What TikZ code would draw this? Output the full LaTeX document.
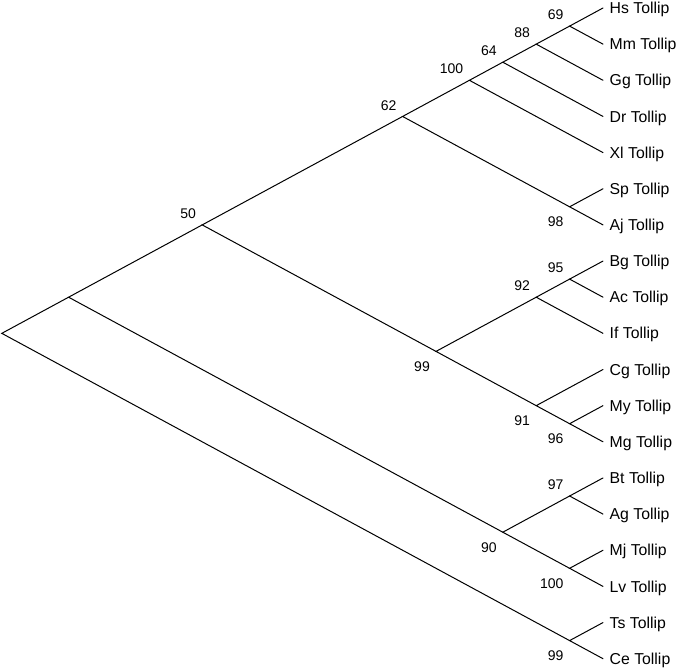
\documentclass[tikz,border=0pt]{standalone}
\usepackage{fontspec}
\setmainfont{Liberation Sans}
\usepackage{tikz,pgffor}

\begin{document}
\begin{tikzpicture}[x=1pt,y=-1pt,
  branch/.style={line width=1pt, line cap=round},
  leaf/.style={anchor=base west, inner sep=0pt, xshift=6.5pt, yshift=-5.6pt,
    font=\fontsize{15.8}{18}\selectfont},
  bsup/.style={anchor=south east, inner sep=0pt, xshift=-6pt, yshift=6pt,
    font=\fontsize{14}{16}\selectfont},
  bsdown/.style={anchor=north east, inner sep=0pt, xshift=-6pt, yshift=-10pt,
    font=\fontsize{14}{16}\selectfont}]
\useasboundingbox (0,0) rectangle (685,669);

%%%%%%%%%%%%%%%%%%%%%%%%%%%%%%% leaves
\coordinate (hs) at (603,8);
\coordinate (mm) at (603,44.15);
\coordinate (gg) at (603,80.3);
\coordinate (dr) at (603,116.45);
\coordinate (xl) at (603,152.6);
\coordinate (sp) at (603,188.75);
\coordinate (aj) at (603,224.9);
\coordinate (bg) at (603,261.05);
\coordinate (ac) at (603,297.2);
\coordinate (if) at (603,333.35);
\coordinate (cg) at (603,369.5);
\coordinate (my) at (603,405.65);
\coordinate (mg) at (603,441.8);
\coordinate (bt) at (603,477.95);
\coordinate (ag) at (603,514.1);
\coordinate (mj) at (603,550.25);
\coordinate (lv) at (603,586.4);
\coordinate (ts) at (603,622.55);
\coordinate (ce) at (603,658.7);

\foreach \n/\t in {hs/Hs,mm/Mm,gg/Gg,dr/Dr,xl/Xl,sp/Sp,aj/Aj,bg/Bg,ac/Ac,
  if/If,cg/Cg,my/My,mg/Mg,bt/Bt,ag/Ag,mj/Mj,lv/Lv,ts/Ts,ce/Ce}
  \node[leaf] (\n-txt) at (\n) {\t{} Tollip};

%%%%%%%%%%%%%%%%%%%%%%%%%%%%%%% inner nodes
\coordinate (hsmm) at (569.6,26.1);
\coordinate (hsgg) at (536.2,44.15);
\coordinate (hsdr) at (502.8,62.2);
\coordinate (hsxl) at (469.4,80.3);
\coordinate (spaj) at (569.6,206.8);
\coordinate (hsaj) at (402.6,116.45);
\coordinate (bgac) at (569.6,279.1);
\coordinate (bgif) at (536.2,297.2);
\coordinate (mymg) at (569.6,423.7);
\coordinate (cgmg) at (536.2,405.65);
\coordinate (bgmg) at (436.0,351.4);
\coordinate (hsmg) at (202.2,224.9);
\coordinate (btag) at (569.6,496.0);
\coordinate (mjlv) at (569.6,568.3);
\coordinate (btlv) at (502.8,532.2);
\coordinate (hslv) at (68.6,297.2);
\coordinate (tsce) at (569.6,640.6);
\coordinate (root) at (1.8,333.35);

%%%%%%%%%%%%%%%%%%%%%%%%%%%%%%% branches
\draw[branch] (hslv) -- (root) -- (tsce);
\draw[branch] (hsmg) -- (hslv) -- (btlv);
\draw[branch] (hsaj) -- (hsmg) -- (bgmg);
\draw[branch] (hsxl) -- (hsaj) -- (spaj);
\draw[branch] (hsdr) -- (hsxl) -- (xl);
\draw[branch] (hsgg) -- (hsdr) -- (dr);
\draw[branch] (hsmm) -- (hsgg) -- (gg);
\draw[branch] (hs) -- (hsmm) -- (mm);
\draw[branch] (sp) -- (spaj) -- (aj);
\draw[branch] (bgif) -- (bgmg) -- (cgmg);
\draw[branch] (bgac) -- (bgif) -- (if);
\draw[branch] (bg) -- (bgac) -- (ac);
\draw[branch] (cg) -- (cgmg) -- (mymg);
\draw[branch] (my) -- (mymg) -- (mg);
\draw[branch] (btag) -- (btlv) -- (mjlv);
\draw[branch] (bt) -- (btag) -- (ag);
\draw[branch] (mj) -- (mjlv) -- (lv);
\draw[branch] (ts) -- (tsce) -- (ce);

%%%%%%%%%%%%%%%%%%%%%%%%%%%%%%% bootstrap values
\node[bsup] (hsmm-bs) at (hsmm) {69};
\node[bsup] (hsgg-bs) at (hsgg) {88};
\node[bsup] (hsdr-bs) at (hsdr) {64};
\node[bsup] (hsxl-bs) at (hsxl) {100};
\node[bsup] (hsaj-bs) at (hsaj) {62};
\node[bsup] (hsmg-bs) at (hsmg) {50};
\node[bsdown] (spaj-bs) at (spaj) {98};
\node[bsup] (bgac-bs) at (bgac) {95};
\node[bsup] (bgif-bs) at (bgif) {92};
\node[bsdown] (bgmg-bs) at (bgmg) {99};
\node[bsdown] (cgmg-bs) at (cgmg) {91};
\node[bsdown] (mymg-bs) at (mymg) {96};
\node[bsup] (btag-bs) at (btag) {97};
\node[bsdown] (btlv-bs) at (btlv) {90};
\node[bsdown] (mjlv-bs) at (mjlv) {100};
\node[bsdown] (tsce-bs) at (tsce) {99};
\end{tikzpicture}
\end{document}
